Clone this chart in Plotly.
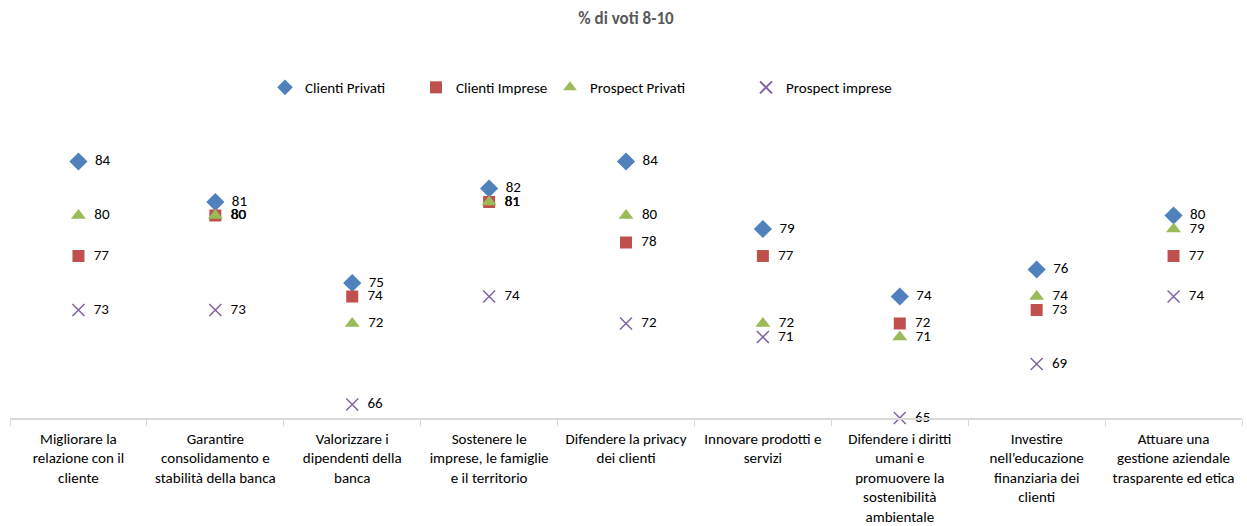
import plotly.graph_objects as go

categories = [
    "Migliorare la<br>relazione con il<br>cliente",
    "Garantire<br>consolidamento e<br>stabilità della banca",
    "Valorizzare i<br>dipendenti della<br>banca",
    "Sostenere le<br>imprese, le famiglie<br>e il territorio",
    "Difendere la privacy<br>dei clienti",
    "Innovare prodotti e<br>servizi",
    "Difendere i diritti<br>umani e<br>promuovere la<br>sostenibilità<br>ambientale",
    "Investire<br>nell’educazione<br>finanziaria dei<br>clienti",
    "Attuare una<br>gestione aziendale<br>trasparente ed etica",
]
clienti_privati = [84, 81, 75, 82, 84, 79, 74, 76, 80]
clienti_imprese = [77, 80, 74, 81, 78, 77, 72, 73, 77]
prospect_privati = [80, 80, 72, 81, 80, 72, 71, 74, 79]
prospect_imprese = [73, 73, 66, 74, 72, 71, 65, 69, 74]

FONT = "Carlito, Calibri, Lato, sans-serif"

# legend text start (px) per series
series = [
    ("Clienti Privati", clienti_privati, "diamond", "#4F81BD", 14, "legend", 305),
    ("Clienti Imprese", clienti_imprese, "square", "#C0504D", 12, "legend2", 456),
    ("Prospect Privati", prospect_privati, "triangle-up", "#9BBB59", 13, "legend3", 590),
    ("Prospect imprese", prospect_imprese, "x-thin", "#8064A2", 12, "legend4", 786),
]

fig = go.Figure()
L, R, T, B = 10, 5, 147.5, 108
W, H = 1247, 526
pw = W - L - R
ph = H - T - B

for name, vals, sym, col, size, leg, tx in series:
    marker = dict(symbol=sym, color=col, size=size)
    if sym == "x-thin":
        marker["line"] = dict(color=col, width=1.5)
    fig.add_trace(go.Scatter(
        x=categories, y=vals, name=name, mode="markers+text",
        marker=marker,
        text=["\u00a0\u00a0" + str(v) for v in vals],
        textposition="middle right",
        textfont=dict(family=FONT, size=15, color="#000000"),
        cliponaxis=False,
        legend=leg,
    ))

legend_layout = {}
for name, vals, sym, col, size, leg, tx in series:
    legend_layout[leg] = dict(
        x=(tx - 40 - L) / pw, xanchor="left",
        y=(H - B - 87) / ph, yanchor="middle",
        orientation="h",
        font=dict(family=FONT, size=15, color="#000000"),
        bgcolor="rgba(0,0,0,0)",
        itemwidth=30,
        itemsizing="constant",
    )

fig.update_layout(
    width=W, height=H,
    margin=dict(l=L, r=R, t=T, b=B, autoexpand=False),
    paper_bgcolor="white", plot_bgcolor="white",
    title=dict(text="<b>% di voti 8-10</b>", x=0.5, xref="paper", xanchor="center",
               y=1 - 18 / H, yanchor="middle",
               font=dict(family=FONT, size=17, color="#595959")),
    showlegend=True,
    **legend_layout,
)
fig.update_xaxes(
    type="category", range=[-0.5, 8.5], automargin=False,
    showline=True, linecolor="#D9D9D9", linewidth=1.5,
    ticks="outside", tickson="boundaries", ticklen=6, tickcolor="#D9D9D9", tickwidth=1,
    ticklabelstandoff=6,
    showgrid=False, zeroline=False,
    tickfont=dict(family=FONT, size=15, color="#000000"),
)
fig.update_yaxes(range=[65, 85], visible=False, showgrid=False, zeroline=False, automargin=False)

fig.write_html(
    "out.html",
    config={"displayModeBar": False},
    post_script="document.body.style.margin='0';document.body.style.overflow='hidden';",
)
